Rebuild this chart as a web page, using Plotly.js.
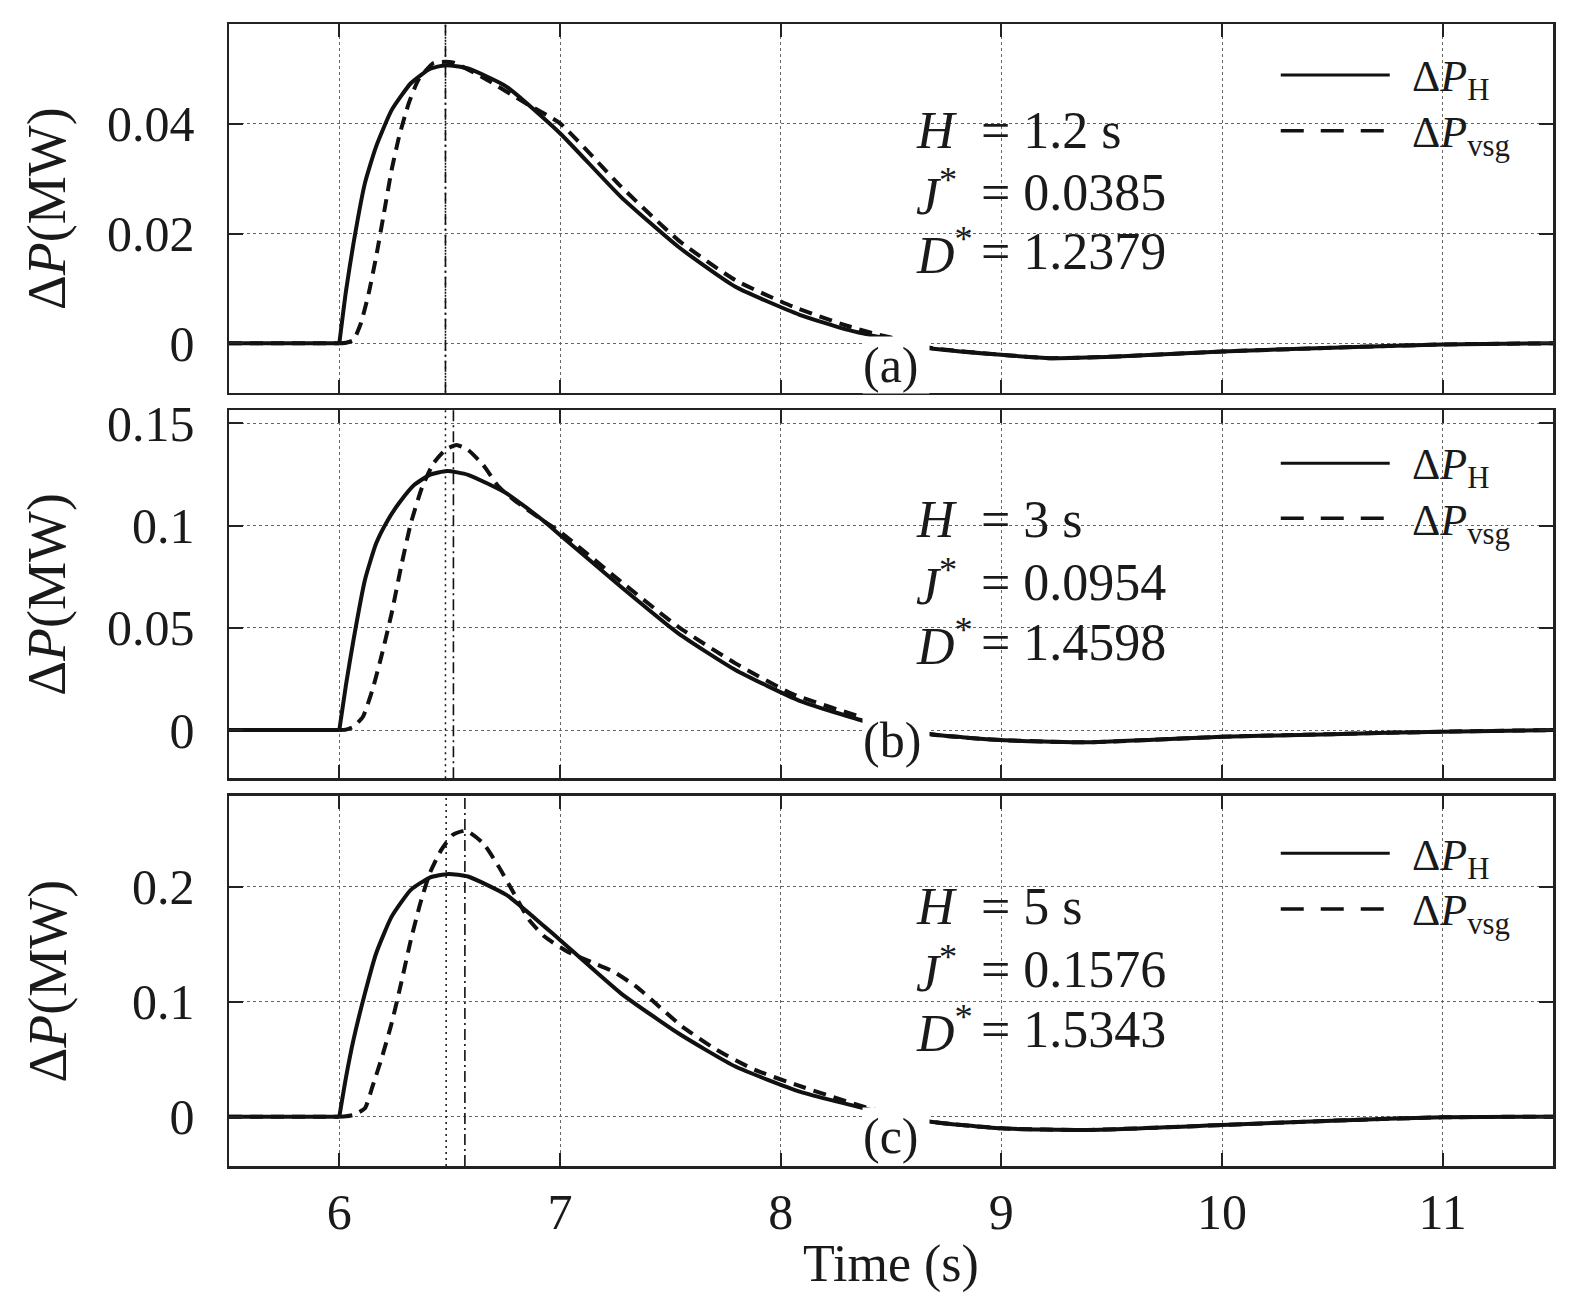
<!DOCTYPE html>
<html><head><meta charset="utf-8">
<script src="https://cdn.plot.ly/plotly-3.0.1.min.js"></script>
<style>html,body{margin:0;padding:0;background:#fff}</style>
</head><body><div id="chart" style="width:1580px;height:1297px"></div>
<script>
// ---------- data ----------
const tH_a   = [5.5, 6.0, 6.03, 6.064, 6.116, 6.167, 6.237, 6.324, 6.41, 6.481, 6.583, 6.757, 7.0, 7.276, 7.536, 7.795, 8.086, 8.3, 8.44, 8.55, 8.676, 9.0, 9.225, 9.525, 10.0, 10.5, 11.0, 11.5];
const pH_a   = [0, 0, 0.0095, 0.0182, 0.0292, 0.0359, 0.0425, 0.0474, 0.0500, 0.0507, 0.0501, 0.0468, 0.0383, 0.0267, 0.0176, 0.0103, 0.0052, 0.0025, 0.0012, 0.0003, -0.0009, -0.0021, -0.0027, -0.0024, -0.0015, -0.0008, -0.0002, 0.0];
const tV_a   = [5.5, 6.0, 6.03, 6.064, 6.098, 6.133, 6.167, 6.202, 6.237, 6.271, 6.315, 6.358, 6.427, 6.514, 6.67, 6.843, 7.0, 7.276, 7.536, 7.795, 8.055, 8.3, 8.44, 8.55, 8.676, 9.0, 9.225, 9.525, 10.0, 10.5, 11.0, 11.5];
const pV_a   = [0, 0, 0.0001, 0.0006, 0.0037, 0.0091, 0.0158, 0.0237, 0.0316, 0.0377, 0.0438, 0.0480, 0.0511, 0.0512, 0.0480, 0.0438, 0.0401, 0.0286, 0.0188, 0.0115, 0.0067, 0.0032, 0.0016, 0.0006, -0.0008, -0.0021, -0.0027, -0.0024, -0.0015, -0.0008, -0.0002, 0.0];

const tH_b   = [5.5, 6.0, 6.03, 6.064, 6.116, 6.167, 6.219, 6.271, 6.34, 6.41, 6.488, 6.583, 6.757, 6.93, 7.0, 7.276, 7.536, 7.795, 8.086, 8.39, 8.55, 8.68, 9.0, 9.39, 10.0, 10.5, 11.0, 11.5];
const pH_b   = [0, 0, 0.022, 0.044, 0.0734, 0.0913, 0.1025, 0.1110, 0.1199, 0.1248, 0.1267, 0.1248, 0.1158, 0.1019, 0.0954, 0.0701, 0.0473, 0.0294, 0.0143, 0.0041, 0.0010, -0.0021, -0.0049, -0.0060, -0.0033, -0.0020, -0.0008, 0.0];
const tV_b   = [5.5, 6.0, 6.03, 6.064, 6.107, 6.15, 6.194, 6.237, 6.28, 6.324, 6.376, 6.427, 6.48, 6.531, 6.583, 6.652, 6.722, 6.791, 6.93, 7.0, 7.276, 7.536, 7.795, 8.055, 8.41, 8.55, 8.68, 9.0, 9.39, 10.0, 10.5, 11.0, 11.5];
const pV_b   = [0, 0, 0.0002, 0.0016, 0.0065, 0.0196, 0.0375, 0.0571, 0.0799, 0.1011, 0.1190, 0.1305, 0.1370, 0.1394, 0.1370, 0.1296, 0.1190, 0.1125, 0.1019, 0.0970, 0.0726, 0.0505, 0.0326, 0.0176, 0.0049, 0.0015, -0.0021, -0.0049, -0.0060, -0.0033, -0.0020, -0.0008, 0.0];

const tH_c   = [5.5, 6.0, 6.03, 6.064, 6.116, 6.167, 6.237, 6.324, 6.41, 6.494, 6.583, 6.757, 6.93, 7.0, 7.276, 7.536, 7.795, 8.086, 8.41, 8.55, 8.68, 9.0, 9.39, 10.0, 10.5, 11.0, 11.5];
const pH_c   = [0, 0, 0.034, 0.0668, 0.1074, 0.1423, 0.1742, 0.1975, 0.2082, 0.2114, 0.2091, 0.1931, 0.1655, 0.1539, 0.1074, 0.0726, 0.0436, 0.0218, 0.0058, 0.0010, -0.0044, -0.0102, -0.0116, -0.0073, -0.0035, -0.0006, 0.0];
const tV_c   = [5.5, 6.0, 6.03, 6.064, 6.116, 6.15, 6.194, 6.237, 6.28, 6.324, 6.367, 6.41, 6.462, 6.514, 6.574, 6.652, 6.722, 6.791, 6.86, 6.93, 7.034, 7.138, 7.242, 7.346, 7.45, 7.554, 7.71, 7.883, 8.072, 8.41, 8.55, 8.68, 9.0, 9.39, 10.0, 10.5, 11.0, 11.5];
const pV_c   = [0, 0, 0.0003, 0.0015, 0.0073, 0.0261, 0.0523, 0.0813, 0.1161, 0.1539, 0.1858, 0.2120, 0.2323, 0.2454, 0.2491, 0.2381, 0.2178, 0.1945, 0.1713, 0.1568, 0.1437, 0.1350, 0.1263, 0.1132, 0.0958, 0.0784, 0.0581, 0.0407, 0.0276, 0.0067, 0.0015, -0.0044, -0.0102, -0.0116, -0.0073, -0.0035, -0.0006, 0.0];

const peakH   = [6.481, 6.481, 6.484];   // dotted vertical lines
const peakVsg = [6.481, 6.517, 6.569];   // dash-dot vertical lines

const xTicks      = [6, 7, 8, 9, 10, 11];
const yTicks_a    = [0, 0.02, 0.04];
const yTickText_a = ['0', '0.02', '0.04'];
const yTicks_b    = [0, 0.05, 0.1, 0.15];
const yTickText_b = ['0', '0.05', '0.1', '0.15'];
const yTicks_c    = [0, 0.1, 0.2];
const yTickText_c = ['0', '0.1', '0.2'];

const panelLabels = ['(a)', '(b)', '(c)'];
const paramH = ['1.2 s', '3 s', '5 s'];
const paramJ = ['0.0385', '0.0954', '0.1576'];
const paramD = ['1.2379', '1.4598', '1.5343'];
const legendNames = ['Δ<i>P</i><sub>H</sub>', 'Δ<i>P</i><sub>vsg</sub>'];
const yTitle = 'Δ<i>P</i>(MW)';
const xTitle = 'Time (s)';

// ---------- layout helpers ----------
const W = 1580, H = 1297;
const L = 229, R = 1553.3, T = 24, B = 1166;
const PW = R - L, PH = B - T;
const px = p => (p - L) / PW;
const py = p => (B - p) / PH;
const panelTop = [24, 410, 795.7];
const panelBot = [392.7, 778.3, 1166];
const FONT = 'Liberation Serif, Times New Roman, serif';
const INK = '#1a1a1a';

const tData = [[tH_a, pH_a, tV_a, pV_a], [tH_b, pH_b, tV_b, pV_b], [tH_c, pH_c, tV_c, pV_c]];
const yRanges = [[-0.009, 0.0582], [-0.0236, 0.1565], [-0.043, 0.2795]];
const yTicks = [[yTicks_a, yTickText_a], [yTicks_b, yTickText_b], [yTicks_c, yTickText_c]];

const solidLine = {color: '#111', width: 4};
const dashLine = {color: '#111', width: 4, dash: '13px,8px'};
const traces = [];
tData.forEach((d, i) => {
  const xa = i === 0 ? 'x' : 'x' + (i + 1);
  const ya = i === 0 ? 'y' : 'y' + (i + 1);
  // flat pre-disturbance part (linear) and the transient (smooth)
  traces.push({x: d[2].slice(0, 2), y: d[3].slice(0, 2), xaxis: xa, yaxis: ya, mode: 'lines',
    name: 'ΔP_vsg', line: dashLine, showlegend: false});
  traces.push({x: d[2].slice(1), y: d[3].slice(1), xaxis: xa, yaxis: ya, mode: 'lines',
    name: 'ΔP_vsg', line: Object.assign({shape: 'spline', smoothing: 0.5}, dashLine), showlegend: false});
  traces.push({x: d[0].slice(0, 2), y: d[1].slice(0, 2), xaxis: xa, yaxis: ya, mode: 'lines',
    name: 'ΔP_H', line: solidLine, showlegend: false});
  traces.push({x: d[0].slice(1), y: d[1].slice(1), xaxis: xa, yaxis: ya, mode: 'lines',
    name: 'ΔP_H', line: Object.assign({shape: 'spline', smoothing: 0.5}, solidLine), showlegend: false});
});

const layout = {
  width: W, height: H,
  margin: {l: L, r: W - R, t: T, b: H - B, pad: 0},
  paper_bgcolor: '#fff', plot_bgcolor: '#fff',
  font: {family: FONT, color: INK, size: 50},
  showlegend: false,
  shapes: [], annotations: []
};

for (let i = 0; i < 3; i++) {
  const sfx = i === 0 ? '' : String(i + 1);
  const dom = [py(panelBot[i]), py(panelTop[i])];
  layout['xaxis' + sfx] = {
    domain: [0, 1], range: [5.5, 11.5], anchor: 'y' + sfx,
    tickvals: xTicks, ticktext: xTicks.map(String),
    showticklabels: i === 2, ticks: 'inside', ticklen: 13, tickwidth: 2, tickcolor: '#222',
    showline: true, linecolor: '#222', linewidth: 2.5, mirror: 'ticks',
    showgrid: true, gridcolor: '#666', gridwidth: 1, griddash: 'dot', zeroline: false,
    tickfont: {family: FONT, size: 50, color: INK}, ticklabelstandoff: 0
  };
  if (i > 0) layout['xaxis' + sfx].matches = 'x';
  if (i === 2) {
    layout['xaxis' + sfx].title = {text: xTitle, font: {family: FONT, size: 52, color: INK}, standoff: 6};
  }
  layout['yaxis' + sfx] = {
    domain: dom, range: yRanges[i], anchor: 'x' + sfx,
    tickvals: yTicks[i][0], ticktext: yTicks[i][1],
    ticks: 'inside', ticklen: 14, tickwidth: 2, tickcolor: '#222',
    showline: true, linecolor: '#222', linewidth: 2.5, mirror: 'ticks',
    showgrid: true, gridcolor: '#666', gridwidth: 1, griddash: 'dot', zeroline: false,
    tickfont: {family: FONT, size: 50, color: INK}, ticklabelstandoff: 22
  };

  const xr = i === 0 ? 'x' : 'x' + (i + 1);
  const yd = (i === 0 ? 'y' : 'y' + (i + 1)) + ' domain';
  // peak marker lines
  layout.shapes.push({type: 'line', xref: xr, yref: yd, x0: peakH[i], x1: peakH[i], y0: 0, y1: 1,
    line: {color: '#111', width: 1.5, dash: '2px,4px'}});
  layout.shapes.push({type: 'line', xref: xr, yref: yd, x0: peakVsg[i], x1: peakVsg[i], y0: 0, y1: 1,
    line: {color: '#111', width: 1.6, dash: '11px,4px,2px,4px'}});

  // legend samples
  const top = panelTop[i];
  const legY = [[51, 106.7], [53.3, 108.3], [57.6, 113.3]][i];
  const legTxt = [[56, 112], [57.5, 113], [62.3, 117.3]][i];
  layout.shapes.push({type: 'line', xref: 'paper', yref: 'paper', x0: px(1281), x1: px(1390),
    y0: py(top + legY[0]), y1: py(top + legY[0]), line: {color: '#111', width: 3}});
  layout.shapes.push({type: 'line', xref: 'paper', yref: 'paper', x0: px(1281), x1: px(1390),
    y0: py(top + legY[1]), y1: py(top + legY[1]), line: {color: '#111', width: 3.5, dash: '23px,17px'}});
  legendNames.forEach((nm, k) => {
    layout.annotations.push({xref: 'paper', yref: 'paper', x: px(1410), y: py(top + legTxt[k]),
      xanchor: 'left', yanchor: 'middle', text: nm, showarrow: false,
      font: {family: FONT, size: 44, color: INK}});
  });

  // parameter text
  const rows = [[106, 168, 228], [109, 172, 232], [111, 174, 234]][i];
  const syms = ['<i>H</i>', '<i>J</i><sup>*</sup>', '<i>D</i><sup>*</sup>'];
  const vals = ['= ' + paramH[i], '= ' + paramJ[i], '= ' + paramD[i]];
  for (let k = 0; k < 3; k++) {
    layout.annotations.push({xref: 'paper', yref: 'paper', x: px(914), y: py(top + rows[k]),
      xanchor: 'left', yanchor: 'middle', text: syms[k], showarrow: false,
      font: {family: FONT, size: 52, color: INK}});
    layout.annotations.push({xref: 'paper', yref: 'paper', x: px(979), y: py(top + rows[k]),
      xanchor: 'left', yanchor: 'middle', text: vals[k], showarrow: false,
      font: {family: FONT, size: 52, color: INK}});
  }

  // panel label with white background
  const lblC = [365, 740, 1136][i];
  layout.annotations.push({xref: xr, yref: 'paper', x: 8.37, y: py(lblC),
    xanchor: 'left', yanchor: 'middle', text: panelLabels[i], showarrow: false,
    width: 66, align: 'left', bgcolor: '#fff', borderpad: 0,
    font: {family: FONT, size: 50, color: INK}});

  // y-axis title
  layout.annotations.push({xref: 'paper', yref: 'paper', x: px(47.5), y: py((panelTop[i] + panelBot[i]) / 2),
    xanchor: 'center', yanchor: 'middle', text: yTitle, textangle: -90, showarrow: false,
    font: {family: FONT, size: 54, color: INK}});
}

Plotly.newPlot('chart', traces, layout, {staticPlot: true, displayModeBar: false});
</script></body></html>
